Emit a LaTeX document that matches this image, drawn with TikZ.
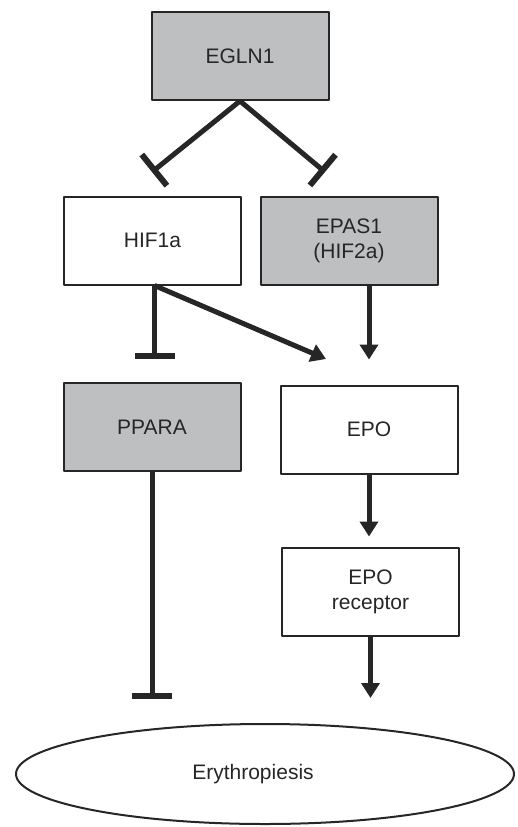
\documentclass[tikz,border=0pt]{standalone}
\usepackage{fontspec}
\setmainfont{Liberation Sans}
\usetikzlibrary{arrows.meta,shapes.geometric}
\definecolor{boxgray}{RGB}{190,191,193}

\begin{document}
\begin{tikzpicture}[x=1pt,y=-1pt,line cap=round,line join=round,
        gene/.style={draw=black!85,line width=2pt,minimum width=177pt,minimum height=88pt,
          align=center,font=\fontsize{21}{25}\selectfont,text=black!85},
        grey/.style={gene,fill=boxgray},
        act/.style={line width=5pt,line cap=butt,-{Triangle[length=15pt,width=18pt]},black!85},
        inh/.style={line width=5pt,line cap=butt,-{Bar[width=40pt,line width=6pt]},black!85}]
        \useasboundingbox (0,0) rectangle (517,827);
        \node[grey] (egln) at (240,56) {EGLN1};
        \node[gene] (hif) at (152.5,240.5) {HIF1a};
        \node[grey] (epas) at (349,240.5) {EPAS1\\(HIF2a)};
        \node[grey] (ppara) at (152,427) {PPARA};
        \node[gene] (epo) at (369,429.5) {EPO};
        \node[gene] (epor) at (370.5,591.5) {EPO\\receptor};
        \node[draw=black!85,line width=2pt,ellipse,minimum width=498pt,minimum height=100pt,
          font=\fontsize{21}{25}\selectfont,text=black!85] (ery) at (265,774) {Erythropiesis\hspace*{24pt}};
        \coordinate (hifbar) at (152,172);
        \coordinate (epasbar) at (325,172);
        \coordinate (epoin) at (326,359);
        % EGLN1 hits both
        \draw [inh] (egln.south) -- (hifbar);
        \draw [inh] (egln.south) -- (epasbar);
        % HIF1a
        \draw [inh,shorten >=23pt] ([xshift=2pt]hif.south) -- ([xshift=2pt]hif.south |- ppara.north);
        \draw [act] ([xshift=2pt]hif.south) -- (epoin);
        % EPAS1 / EPO chain
        \draw [act,shorten >=25pt] (epas.south -| epo) -- (epo.north);
        \draw [act,shorten >=10pt] (epo.south) -- (epo.south |- epor.north);
        \draw [act,shorten >=25pt] (epor.south) -- (epor.south |- ery.north);
        \draw [inh,shorten >=24pt] (ppara.south) -- (ppara.south |- ery.north);
        \end{tikzpicture}
\end{document}
